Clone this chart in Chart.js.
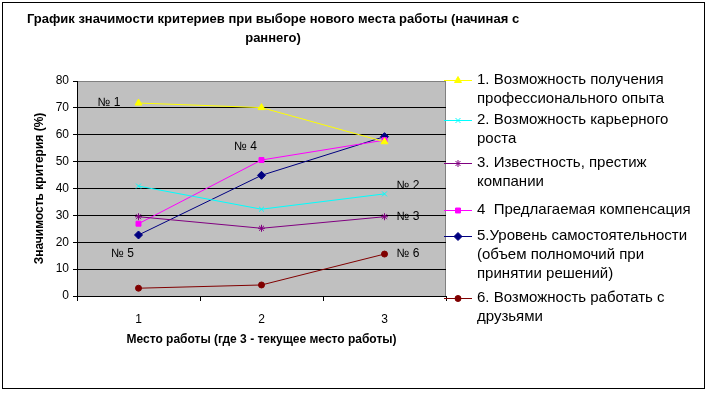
<!DOCTYPE html>
<html lang="ru">
<head>
<meta charset="UTF-8">
<title>График значимости критериев</title>
<script src="https://cdn.jsdelivr.net/npm/chart.js"></script>
<style>
  body { margin: 0; background: #fff; }
  canvas { display: block; }
</style>
</head>
<body>
<canvas id="chart" width="708" height="393"></canvas>
<script>
// data
const categories = ['1', '2', '3'];
const seriesNames = [
  '1. Возможность получения\nпрофессионального опыта',
  '2. Возможность карьерного\nроста',
  '3. Известность, престиж\nкомпании',
  '4  Предлагаемая компенсация',
  '5.Уровень самостоятельности\n(объем полномочий при\nпринятии решений)',
  '6. Возможность работать с\nдрузьями'
];
const s1 = [71.8, 70.1, 57.4];
const s2 = [40.9, 32.3, 38.0];
const s3 = [29.5, 25.2, 29.5];
const s4 = [26.9, 50.6, 58.0];
const s5 = [22.7, 44.9, 59.3];
const s6 = [2.9, 4.1, 15.6];
const yTicks = [0, 10, 20, 30, 40, 50, 60, 70, 80];

// in-plot labels: text, category position, value
const noteTexts = ['№ 1', '№ 4', '№ 2', '№ 3', '№ 5', '№ 6'];
const noteCat = [-0.24, 0.87, 2.19, 2.19, -0.13, 2.19];
const noteVal = [71.8, 55.4, 40.9, 29.4, 15.6, 15.6];

const titleLines = ['График значимости критериев при выборе нового места работы (начиная с', 'раннего)'];

const FONT = '"Liberation Sans", Arial, sans-serif';
const colors = ['#FFFF00', '#00FFFF', '#800080', '#FF00FF', '#000080', '#800000'];
const styles = ['triangle', 'crossRot', 'star', 'rect', 'rectRot', 'circle'];
const radii = [4, 3.5, 3.5, 3.5, 4, 3];
const allSeries = [s1, s2, s3, s4, s5, s6];

const datasets = allSeries.map((d, i) => ({
  label: seriesNames[i],
  data: d,
  borderColor: colors[i],
  backgroundColor: colors[i],
  pointBackgroundColor: colors[i],
  pointBorderColor: colors[i],
  pointStyle: styles[i],
  pointRadius: radii[i],
  pointBorderWidth: 1,
  borderWidth: 1,
  tension: 0,
  fill: false,
  clip: false
}));

const framePlugin = {
  id: 'frame',
  beforeDraw(chart) {
    const ctx = chart.ctx, a = chart.chartArea;
    ctx.save();
    ctx.fillStyle = '#fff';
    ctx.fillRect(0, 0, chart.width, chart.height);
    ctx.strokeStyle = '#000';
    ctx.lineWidth = 1;
    ctx.strokeRect(2.5, 2.5, 702, 386);
    ctx.fillStyle = '#C0C0C0';
    ctx.fillRect(a.left, a.top, a.right - a.left, a.bottom - a.top);
    ctx.strokeStyle = '#808080';
    ctx.strokeRect(a.left + 0.5, a.top + 0.5, a.right - a.left - 1, a.bottom - a.top);
    // title
    ctx.fillStyle = '#000';
    ctx.font = 'bold 13px ' + FONT;
    ctx.textAlign = 'center';
    ctx.textBaseline = 'middle';
    titleLines.forEach((t, i) => ctx.fillText(t, 273, 19 + i * 19));
    ctx.restore();
  }
};

const notesPlugin = {
  id: 'notes',
  afterDatasetsDraw(chart) {
    const ctx = chart.ctx;
    const xs = chart.scales.x, ys = chart.scales.y;
    ctx.save();
    ctx.fillStyle = '#000';
    ctx.font = '12px ' + FONT;
    ctx.textAlign = 'center';
    ctx.textBaseline = 'middle';
    noteTexts.forEach((t, i) => {
      ctx.fillText(t, xs.getPixelForValue(noteCat[i]), ys.getPixelForValue(noteVal[i]));
    });
    ctx.restore();
  }
};

// legend on the right with wrapped names
const legendY = [80, 120, 163, 210, 236, 298];
const legendPlugin = {
  id: 'sideLegend',
  afterDraw(chart) {
    const ctx = chart.ctx;
    ctx.save();
    ctx.font = '15px ' + FONT;
    ctx.textBaseline = 'middle';
    ctx.textAlign = 'left';
    chart.data.datasets.forEach((ds, i) => {
      const y = legendY[i];
      ctx.strokeStyle = ds.borderColor;
      ctx.lineWidth = 1;
      ctx.beginPath();
      ctx.moveTo(444, y + 0.5);
      ctx.lineTo(472, y + 0.5);
      ctx.stroke();
      ctx.fillStyle = ds.borderColor;
      Chart.helpers.drawPoint(ctx, {
        pointStyle: ds.pointStyle, radius: ds.pointRadius, rotation: 0, borderWidth: 1
      }, 458, y + 0.5);
      ctx.fillStyle = '#000';
      ds.label.split('\n').forEach((line, k) => ctx.fillText(line, 477, y + k * 19));
    });
    ctx.restore();
  }
};

new Chart(document.getElementById('chart'), {
  type: 'line',
  data: { labels: categories, datasets: datasets },
  plugins: [framePlugin, notesPlugin, legendPlugin],
  options: {
    responsive: false,
    animation: false,
    layout: { padding: { left: 28, right: 262, top: 81, bottom: 42 } },
    plugins: { legend: { display: false }, title: { display: false }, tooltip: { enabled: false } },
    scales: {
      x: {
        offset: true,
        afterFit(s) { s.height = 55; },
        grid: { display: true, drawOnChartArea: false, drawTicks: true, tickLength: 5, color: '#000', offset: true },
        border: { display: true, color: '#000', width: 1 },
        ticks: { color: '#000', font: { size: 12, family: FONT }, padding: 11, maxRotation: 0 },
        title: { display: true, text: 'Место работы (где 3 - текущее место работы)', color: '#000',
                 font: { size: 12, weight: 'bold', family: FONT }, padding: { top: 4, bottom: 4 } }
      },
      y: {
        min: 0, max: 80,
        afterFit(s) { s.width = 49; },
        afterBuildTicks(s) { s.ticks = yTicks.map(v => ({ value: v })); },
        grid: {
          color: c => (c.tick && c.tick.value === 80 ? '#808080' : '#000'),
          tickColor: '#000', tickLength: 4, lineWidth: 1
        },
        border: { display: true, color: '#000', width: 1 },
        ticks: { color: '#000', font: { size: 12, family: FONT }, padding: 4 },
        title: { display: true, text: 'Значимость критерия (%)', color: '#000',
                 font: { size: 12, weight: 'bold', family: FONT }, padding: { top: 4, bottom: 4 } }
      }
    }
  }
});
</script>
</body>
</html>
